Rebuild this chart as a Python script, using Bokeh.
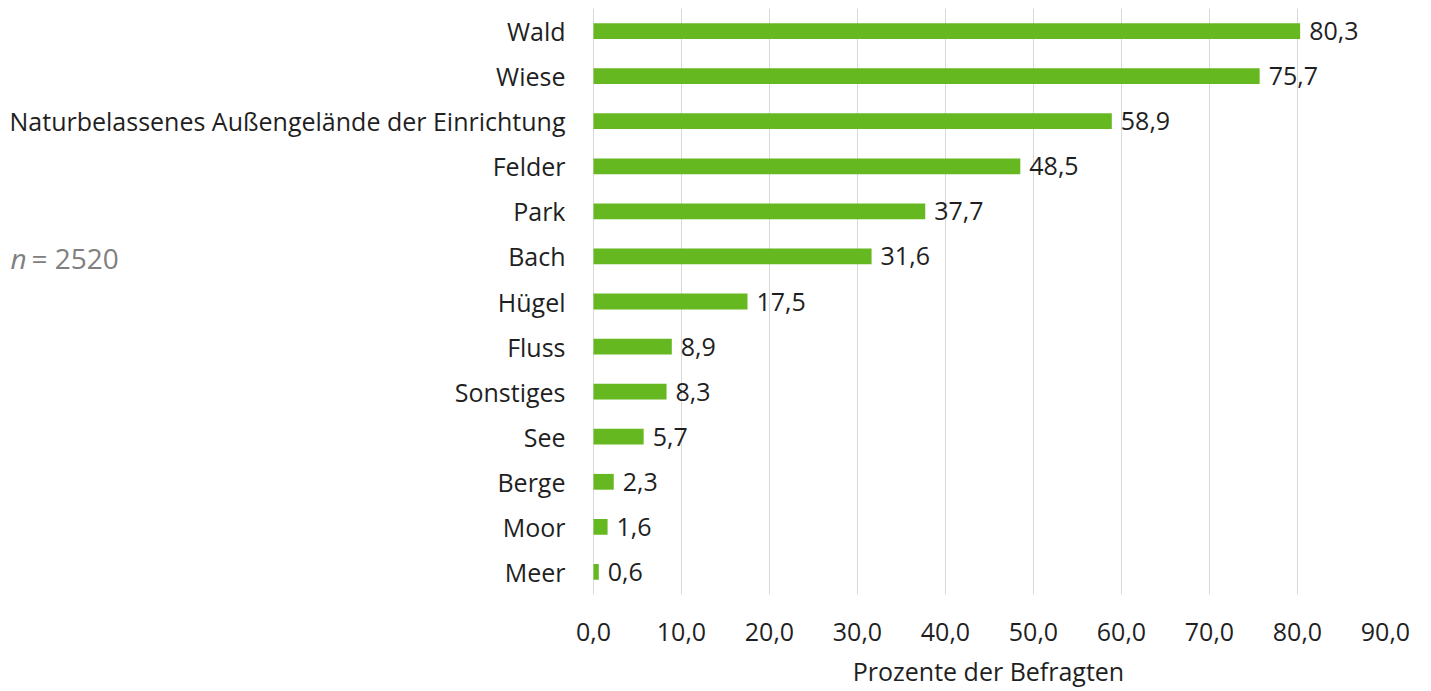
from bokeh.plotting import figure
from bokeh.models import FactorRange, Range1d, FixedTicker, Label, ColumnDataSource, LabelSet
from bokeh.core.properties import value
from bokeh.embed import file_html
from bokeh.resources import INLINE

categories = ["Wald", "Wiese", "Naturbelassenes Außengelände der Einrichtung", "Felder", "Park",
              "Bach", "Hügel", "Fluss", "Sonstiges", "See", "Berge", "Moor", "Meer"]
values = [80.3, 75.7, 58.9, 48.5, 37.7, 31.6, 17.5, 8.9, 8.3, 5.7, 2.3, 1.6, 0.6]
x_ticks = [0, 10, 20, 30, 40, 50, 60, 70, 80, 90]
x_tick_labels = ["0,0", "10,0", "20,0", "30,0", "40,0", "50,0", "60,0", "70,0", "80,0", "90,0"]
x_title = "Prozente der Befragten"
n_label = "= 2520"

FONT = "Open Sans"
TEXT = "#1f1f1f"
GREEN = "#66B821"
FS = "25px"

# layout geometry (pixels)
LEFT_PX = 593          # space left of the zero line, holds the category labels
DATA_PX = 792          # width of the 0..90 data area
PX_PER_UNIT = DATA_PX / 90.0
TITLE_PAD = 91         # non-breaking spaces that centre the axis title under the 0..90 area

labels = [f"{v:.1f}".replace(".", ",") for v in values]
src = ColumnDataSource(dict(cat=categories, val=values, lab=labels, zero=[0] * len(values)))
factors = categories[::-1]

p = figure(width=LEFT_PX + DATA_PX + 36, height=690, output_backend="svg", toolbar_location=None,
           y_range=FactorRange(factors=factors, range_padding=0),
           x_range=Range1d(-LEFT_PX / PX_PER_UNIT, 90),
           min_border_left=0, min_border_right=36, min_border_top=8, min_border_bottom=96)
p.outline_line_color = None
p.background_fill_color = "white"
p.border_fill_color = "white"

p.hbar(y="cat", right="val", left=0, height=0.35, source=src, color=GREEN, line_color=None)

# value labels
p.add_layout(LabelSet(x="val", y="cat", text="lab", source=src, x_offset=9,
                      text_baseline="middle", text_align="left",
                      text_font=value(FONT), text_font_size=value(FS), text_color=TEXT))
# category labels (right aligned left of the zero line)
p.add_layout(LabelSet(x="zero", y="cat", text="cat", source=src, x_offset=-28,
                      text_baseline="middle", text_align="right",
                      text_font=value(FONT), text_font_size=value(FS), text_color=TEXT))

# x axis
p.xaxis.bounds = (x_ticks[0], x_ticks[-1])
p.xaxis.ticker = FixedTicker(ticks=x_ticks)
p.xaxis.major_label_overrides = {t: s for t, s in zip(x_ticks, x_tick_labels)}
p.xaxis.axis_line_color = None
p.xaxis.major_tick_line_color = None
p.xaxis.minor_tick_line_color = None
p.xaxis.major_label_text_font = FONT
p.xaxis.major_label_text_font_size = FS
p.xaxis.major_label_text_color = TEXT
p.xaxis.major_label_standoff = 22
p.xaxis.axis_label = "\u00a0" * TITLE_PAD + x_title
p.xaxis.axis_label_text_font = FONT
p.xaxis.axis_label_text_font_size = FS
p.xaxis.axis_label_text_font_style = "normal"
p.xaxis.axis_label_text_color = TEXT
p.xaxis.axis_label_standoff = 10

p.yaxis.visible = False

p.xgrid.grid_line_color = "#d9d9d9"
p.xgrid.grid_line_width = 1
p.ygrid.grid_line_color = None

p.add_layout(Label(x=10, y=337, x_units="screen", y_units="screen", text="n",
                   text_font=FONT, text_font_size="28px",
                   text_font_style="italic", text_color="#808080", text_baseline="middle"))
p.add_layout(Label(x=31, y=337, x_units="screen", y_units="screen", text=n_label,
                   text_font=FONT, text_font_size="28px",
                   text_color="#808080", text_baseline="middle"))

open("out.html", "w").write(file_html(p, INLINE))
